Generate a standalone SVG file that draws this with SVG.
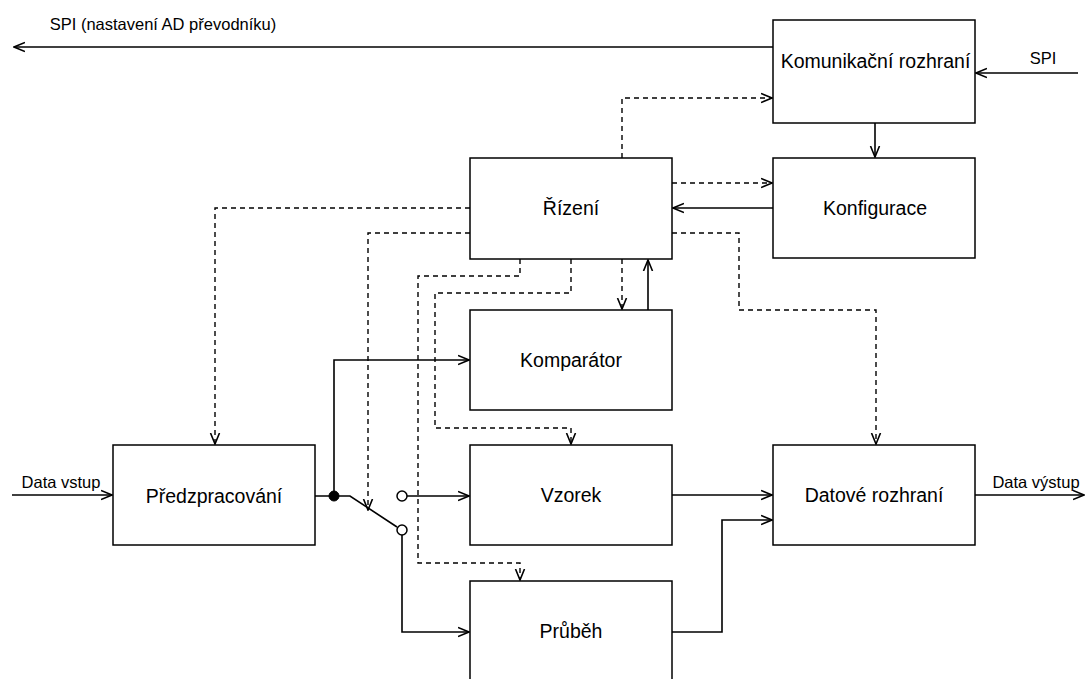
<svg xmlns="http://www.w3.org/2000/svg" width="1089" height="679" viewBox="0 0 1089 679">
<style>
.box{fill:#fff;stroke:#000;stroke-width:1.5}
.lbl{font-family:"Liberation Sans",Arial,sans-serif;font-size:19.5px;text-anchor:middle;fill:#000}
.elbl{font-family:"Liberation Sans",Arial,sans-serif;font-size:16.5px;text-anchor:middle;fill:#000}
.s{fill:none;stroke:#000;stroke-width:1.6}
.d{fill:none;stroke:#000;stroke-width:1.4;stroke-dasharray:5,4}
</style>
<defs>
<marker id="a" viewBox="0 0 12 12" refX="11" refY="6" markerWidth="12" markerHeight="12" markerUnits="userSpaceOnUse" orient="auto">
<path d="M0,1.5 L11,6 L0,10.5" fill="none" stroke="#000" stroke-width="1.6"/>
</marker>
</defs>
<rect width="1089" height="679" fill="#fff"/>
<g id="connectors">
<path class="s" d="M773,47 H14" marker-end="url(#a)"/>
<path class="s" d="M1078,73 H976" marker-end="url(#a)"/>
<path class="s" d="M875,123 V157" marker-end="url(#a)"/>
<path class="s" d="M773,208 H673" marker-end="url(#a)"/>
<path class="d" d="M622,158 V98 H772" marker-end="url(#a)"/>
<path class="d" d="M672,183 H772" marker-end="url(#a)"/>
<path class="d" d="M470,208 H215 V444" marker-end="url(#a)"/>
<path class="d" d="M470,233 H368 V510" marker-end="url(#a)"/>
<path class="d" d="M520,259 V276 H418 V563 H520 V580" marker-end="url(#a)"/>
<path class="d" d="M571,259 V293 H435 V428 H571 V444" marker-end="url(#a)"/>
<path class="d" d="M622,259 V309" marker-end="url(#a)"/>
<path class="s" d="M648,310 V260" marker-end="url(#a)"/>
<path class="d" d="M672,233 H739 V310 H876 V444" marker-end="url(#a)"/>
<path class="s" d="M12,495 H112" marker-end="url(#a)"/>
<path class="s" d="M975,495 H1084" marker-end="url(#a)"/>
<path class="s" d="M315,496 H350 L397,527"/>
<path class="s" d="M334,496 V360 H469" marker-end="url(#a)"/>
<path class="s" d="M407,496 H469" marker-end="url(#a)"/>
<path class="s" d="M402,535 V632 H469" marker-end="url(#a)"/>
<path class="s" d="M672,495 H772" marker-end="url(#a)"/>
<path class="s" d="M672,632 H722 V520 H772" marker-end="url(#a)"/>
<circle cx="334" cy="496" r="5" fill="#000" stroke="#000" stroke-width="1"/>
<circle cx="402" cy="496" r="5" fill="#fff" stroke="#000" stroke-width="1.5"/>
<circle cx="402" cy="530" r="5" fill="#fff" stroke="#000" stroke-width="1.5"/>
<text class="elbl" x="163" y="30">SPI (nastavení AD převodníku)</text>
<text class="elbl" x="1043" y="64">SPI</text>
<text class="elbl" x="61" y="488">Data vstup</text>
<text class="elbl" x="1036" y="488">Data výstup</text>
</g>
<g id="komunikacni"><rect class="box" x="773" y="20" width="202" height="103"/><text class="lbl" x="875.5" y="68">Komunikační rozhraní</text></g>
<g id="konfigurace"><rect class="box" x="773" y="158" width="202" height="100"/><text class="lbl" x="875" y="215">Konfigurace</text></g>
<g id="rizeni"><rect class="box" x="470" y="158" width="202" height="101"/><text class="lbl" x="571" y="215">Řízení</text></g>
<g id="komparator"><rect class="box" x="470" y="310" width="202" height="100"/><text class="lbl" x="571" y="367">Komparátor</text></g>
<g id="predzpracovani"><rect class="box" x="113" y="445" width="202" height="100"/><text class="lbl" x="214" y="503">Předzpracování</text></g>
<g id="vzorek"><rect class="box" x="470" y="445" width="202" height="100"/><text class="lbl" x="571" y="502">Vzorek</text></g>
<g id="datove"><rect class="box" x="773" y="445" width="202" height="100"/><text class="lbl" x="874" y="502">Datové rozhraní</text></g>
<g id="prubeh"><rect class="box" x="470" y="581" width="202" height="110"/><text class="lbl" x="571" y="638">Průběh</text></g>
</svg>
